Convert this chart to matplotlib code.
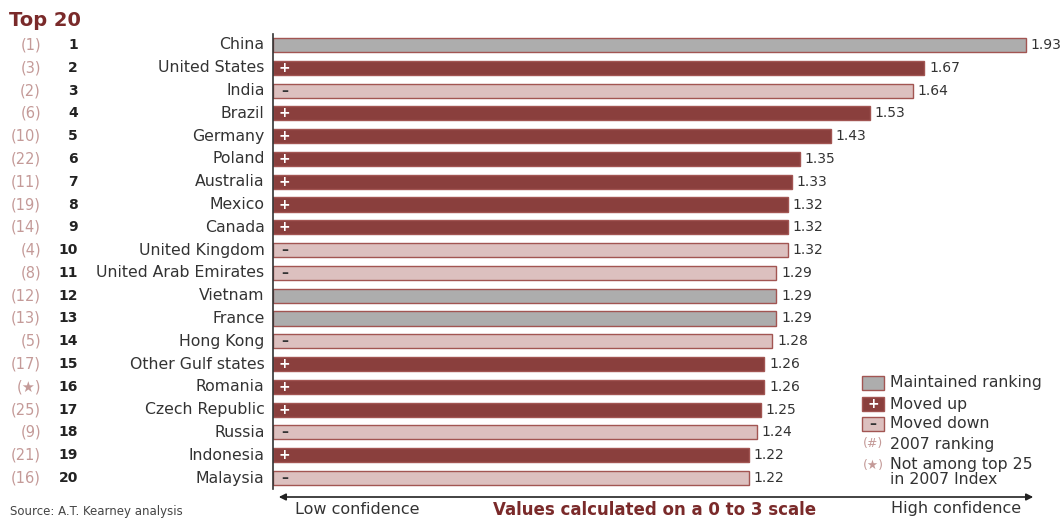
import numpy as np
import matplotlib
matplotlib.use('Agg')
import matplotlib.pyplot as plt
from matplotlib.patches import Rectangle, FancyArrowPatch

plt.rcParams['font.family'] = ['DejaVu Sans']

# Data
countries = ['China', 'United States', 'India', 'Brazil', 'Germany', 'Poland',
             'Australia', 'Mexico', 'Canada', 'United Kingdom',
             'United Arab Emirates', 'Vietnam', 'France', 'Hong Kong',
             'Other Gulf states', 'Romania', 'Czech Republic', 'Russia',
             'Indonesia', 'Malaysia']
values = [1.93, 1.67, 1.64, 1.53, 1.43, 1.35, 1.33, 1.32, 1.32, 1.32,
          1.29, 1.29, 1.29, 1.28, 1.26, 1.26, 1.25, 1.24, 1.22, 1.22]
rank_2007 = ['(1)', '(3)', '(2)', '(6)', '(10)', '(22)', '(11)', '(19)', '(14)', '(4)',
             '(8)', '(12)', '(13)', '(5)', '(17)', '(\u2605)', '(25)', '(9)', '(21)', '(16)']
status = ['same', 'up', 'down', 'up', 'up', 'up', 'up', 'up', 'up', 'down',
          'down', 'same', 'same', 'down', 'up', 'up', 'up', 'down', 'up', 'down']

DARK = '#8a3f3d'
LIGHT = '#dcc0bf'
GREY = '#adadad'
EDGE = '#a25552'
PINK = '#c49a98'
TXT = '#333333'
fill = {'same': GREY, 'up': DARK, 'down': LIGHT}

W, H = 1064, 519
fig = plt.figure(figsize=(W / 100, H / 100), dpi=100)
ax = fig.add_axes([273 / W, 1 - 489.4 / H, 780 / W, 455.8 / H])

ranks = np.arange(len(countries))
ax.barh(ranks, values, height=0.62, color=[fill[s] for s in status],
        edgecolor=EDGE, linewidth=1.0)
ax.set_xlim(0, 2.0)
ax.set_ylim(len(countries) - 0.5, -0.5)
ax.set_xticks([])
ax.set_yticks([])
for s in ['top', 'right', 'bottom']:
    ax.spines[s].set_visible(False)
ax.spines['left'].set_color('#333333')
ax.spines['left'].set_linewidth(1.2)

for i in ranks:
    ax.text(values[i] + 0.013, i, f'{values[i]:.2f}', va='center', ha='left',
            fontsize=10, color=TXT, clip_on=False)
    ax.text(-0.022, i, countries[i], va='center', ha='right', fontsize=11.3,
            color=TXT, clip_on=False)
    ax.text(-0.50, i, str(i + 1), va='center', ha='right', fontsize=10,
            fontweight='bold', color='#222222', clip_on=False)
    ax.text(-0.595, i, rank_2007[i], va='center', ha='right', fontsize=10.5,
            color=PINK, clip_on=False)
    if status[i] == 'up':
        ax.text(0.03, i, '+', va='center', ha='center', fontsize=10,
                fontweight='bold', color='white')
    elif status[i] == 'down':
        ax.text(0.03, i, '\u2013', va='center', ha='center', fontsize=10,
                fontweight='bold', color=TXT)


def fx(px):
    return px / W


def fy(py):
    return 1 - py / H


fig.text(fx(9), fy(20), 'Top 20', fontsize=14, fontweight='bold',
         color='#7a2a2a', va='center', ha='left')

# legend
leg = [('same', 'Maintained ranking', 383), ('up', 'Moved up', 404),
       ('down', 'Moved down', 424)]
for key, label, py in leg:
    fig.add_artist(Rectangle((fx(862), fy(py + 7)), 22 / W, 14 / H,
                             transform=fig.transFigure, facecolor=fill[key],
                             edgecolor=EDGE, linewidth=1.0))
    fig.text(fx(890), fy(py), label, fontsize=11.3, color=TXT, va='center')
fig.text(fx(873), fy(404), '+', fontsize=10, fontweight='bold', color='white',
         ha='center', va='center')
fig.text(fx(873), fy(424), '\u2013', fontsize=10, fontweight='bold',
         color=TXT, ha='center', va='center')
fig.text(fx(873), fy(444), '(#)', fontsize=9, color=PINK, ha='center', va='center')
fig.text(fx(890), fy(444), '2007 ranking', fontsize=11.3, color=TXT, va='center')
fig.text(fx(873), fy(465), '(\u2605)', fontsize=9, color=PINK, ha='center', va='center')
fig.text(fx(890), fy(464), 'Not among top 25', fontsize=11.3, color=TXT, va='center')
fig.text(fx(890), fy(480), 'in 2007 Index', fontsize=11.3, color=TXT, va='center')

# confidence arrow
fig.add_artist(FancyArrowPatch(
    (fx(276), fy(497)), (fx(1036), fy(497)), transform=fig.transFigure,
    arrowstyle='<|-|>', mutation_scale=10, color='#222222', linewidth=1.2))
fig.text(fx(357), fy(509), 'Low confidence', fontsize=11.5, color=TXT,
         ha='center', va='center')
fig.text(fx(655), fy(510), 'Values calculated on a 0 to 3 scale', fontsize=12,
         fontweight='bold', color='#7a2a2a', ha='center', va='center')
fig.text(fx(956), fy(509), 'High confidence', fontsize=11.5, color=TXT,
         ha='center', va='center')
fig.text(fx(10), fy(511), 'Source: A.T. Kearney analysis', fontsize=8.5,
         color='#444444', ha='left', va='center')

fig.savefig('out.png', dpi=100)
